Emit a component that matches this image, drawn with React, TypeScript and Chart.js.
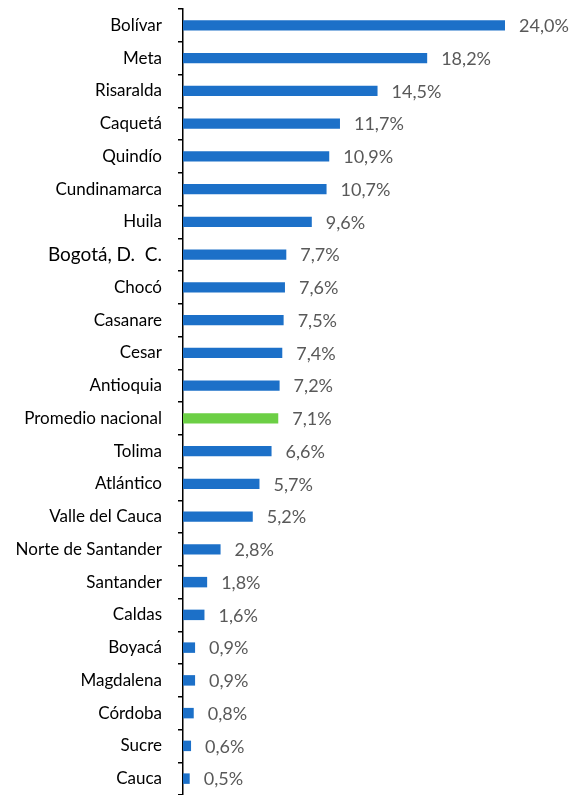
import React, { useEffect, useRef } from "react";
import { Chart, registerables } from "chart.js";

Chart.register(...registerables);

const categories = [
  "Bolívar", "Meta", "Risaralda", "Caquetá", "Quindío", "Cundinamarca", "Huila",
  "Bogotá, D.  C.", "Chocó", "Casanare", "Cesar", "Antioquia", "Promedio nacional",
  "Tolima", "Atlántico", "Valle del Cauca", "Norte de Santander", "Santander",
  "Caldas", "Boyacá", "Magdalena", "Córdoba", "Sucre", "Cauca",
];
const values = [
  24.0, 18.2, 14.5, 11.7, 10.9, 10.7, 9.6, 7.7, 7.6, 7.5, 7.4, 7.2, 7.1, 6.6, 5.7,
  5.2, 2.8, 1.8, 1.6, 0.9, 0.9, 0.8, 0.6, 0.5,
];
const highlight = "Promedio nacional";
const BLUE = "#1C70C8";
const GREEN = "#6CCF45";

const valueLabels = {
  id: "valueLabels",
  afterDatasetsDraw(chart: any) {
    const ctx = chart.ctx;
    const meta = chart.getDatasetMeta(0);
    ctx.save();
    ctx.font = "18px Lato";
    ctx.fillStyle = "#595959";
    ctx.textAlign = "left";
    ctx.textBaseline = "middle";
    meta.data.forEach((bar: any, i: number) => {
      const txt = values[i].toFixed(1).replace(".", ",") + "%";
      ctx.fillText(txt, bar.x + 14, bar.y + 1);
    });
    ctx.restore();
  },
};

export default function App() {
  const ref = useRef<HTMLCanvasElement>(null);
  useEffect(() => {
    if (!ref.current) return;
    const chart = new Chart(ref.current, {
      type: "bar",
      data: {
        labels: categories,
        datasets: [
          {
            data: values,
            backgroundColor: categories.map((c) => (c === highlight ? GREEN : BLUE)),
            barPercentage: 0.32,
            categoryPercentage: 1,
          },
        ],
      },
      options: {
        indexAxis: "y",
        animation: false,
        responsive: false,
        layout: { padding: { top: 9, right: 66, bottom: 0, left: 0 } },
        plugins: { legend: { display: false }, tooltip: { enabled: false } },
        scales: {
          x: { display: false, min: 0, max: 24 },
          y: {
            afterFit: (s: any) => {
              s.width = 183;
              s.paddingTop = 0;
              s.paddingBottom = 0;
            },
            border: { display: true, color: "#000", width: 1.5 },
            grid: {
              offset: true,
              drawOnChartArea: false,
              drawTicks: true,
              tickLength: 5,
              color: "#000",
              lineWidth: 1.5,
            },
            ticks: {
              padding: 16,
              color: "#000",
              autoSkip: false,
              font: (c: any) =>
                c.index === 7 ? { family: "Lato", size: 19 } : { family: "Lato", size: 17 },
            },
          },
        },
      },
      plugins: [valueLabels],
    });
    return () => chart.destroy();
  }, []);
  return (
    <div style={{ position: "absolute", left: 0, top: 0, width: 571, height: 795 }}>
      <canvas ref={ref} width={571} height={795} />
    </div>
  );
}
